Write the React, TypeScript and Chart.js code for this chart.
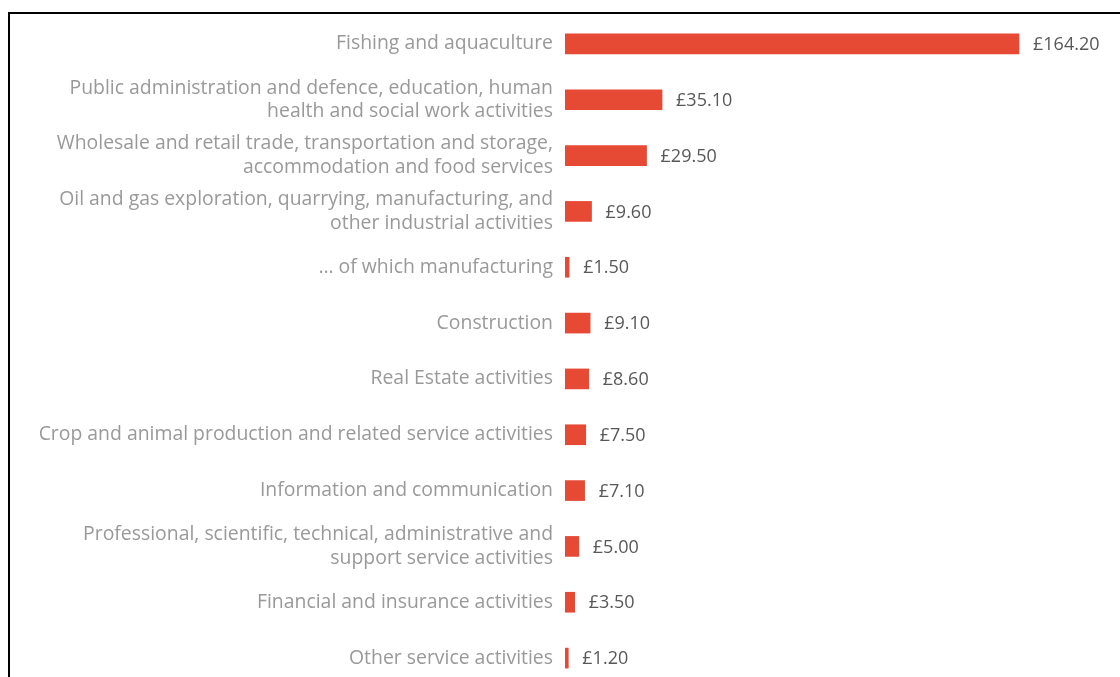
import React, { useEffect, useRef } from "react";
import { Chart, registerables } from "chart.js";

Chart.register(...registerables);

const categories: (string | string[])[] = [
  "Fishing and aquaculture",
  ["Public administration and defence, education, human", "health and social work activities"],
  ["Wholesale and retail trade, transportation and storage,", "accommodation and food services"],
  ["Oil and gas exploration, quarrying, manufacturing, and", "other industrial activities"],
  "… of which manufacturing",
  "Construction",
  "Real Estate activities",
  "Crop and animal production and related service activities",
  "Information and communication",
  ["Professional, scientific, technical, administrative and", "support service activities"],
  "Financial and insurance activities",
  "Other service activities",
];

const values: number[] = [164.2, 35.1, 29.5, 9.6, 1.5, 9.1, 8.6, 7.5, 7.1, 5.0, 3.5, 1.2];

const valueLabelPlugin = {
  id: "valueLabels",
  afterDatasetsDraw(chart: any) {
    const ctx = chart.ctx;
    const meta = chart.getDatasetMeta(0);
    ctx.save();
    ctx.font = '18px "Open Sans"';
    ctx.fillStyle = "#585858";
    ctx.textAlign = "left";
    ctx.textBaseline = "middle";
    meta.data.forEach((bar: any, i: number) => {
      ctx.fillText("£" + values[i].toFixed(2), bar.x + 14, bar.y + 1);
    });
    ctx.restore();
  },
};

export default function App() {
  const ref = useRef<HTMLCanvasElement>(null);
  useEffect(() => {
    if (!ref.current) return;
    const chart = new Chart(ref.current, {
      type: "bar",
      data: {
        labels: categories,
        datasets: [
          {
            data: values,
            backgroundColor: "#e64a35",
            barThickness: 20,
          },
        ],
      },
      options: {
        indexAxis: "y",
        animation: false,
        responsive: false,
        layout: { padding: { top: 16, bottom: 14, left: 0, right: 2 } },
        plugins: { legend: { display: false }, tooltip: { enabled: false } },
        scales: {
          x: {
            display: false,
            min: 0,
            max: 200,
          },
          y: {
            grid: { display: false },
            border: { display: false },
            afterFit: (scale: any) => {
              scale.width = 565;
              scale.paddingTop = 0;
              scale.paddingBottom = 0;
            },
            ticks: {
              color: "#999999",
              padding: 4,
              font: { family: "Open Sans", size: 19.4, lineHeight: 1.2 },
            },
          },
        },
      },
      plugins: [valueLabelPlugin],
    });
    return () => chart.destroy();
  }, []);
  return (
    <div style={{ position: "fixed", left: 0, top: 0, width: 1120, height: 700, background: "#fff" }}>
      <canvas ref={ref} width={1120} height={700} style={{ position: "absolute", left: 0, top: 0 }} />
      <div
        style={{
          position: "absolute",
          left: 8,
          top: 12,
          width: 1200,
          height: 800,
          border: "2px solid #000",
          pointerEvents: "none",
        }}
      />
    </div>
  );
}
